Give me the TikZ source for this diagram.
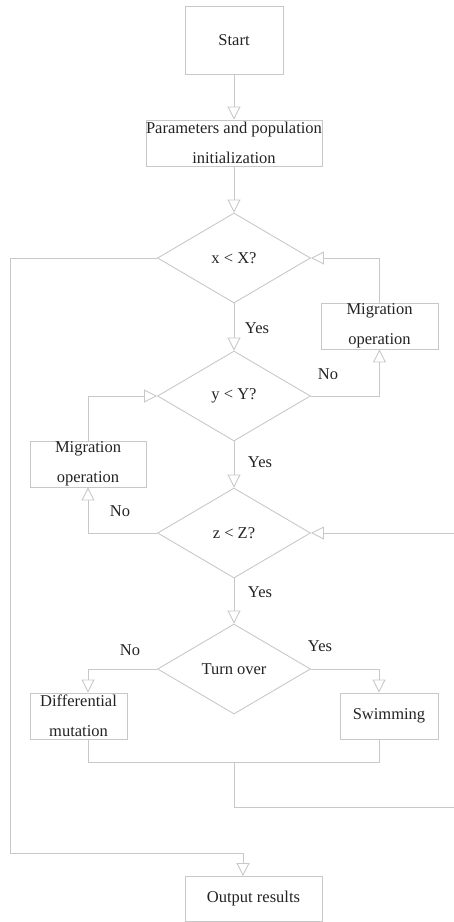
\documentclass[tikz,border=0pt]{standalone}
\usepackage{fontspec}
\setmainfont{Liberation Serif}
\usetikzlibrary{arrows.meta,shapes.geometric,calc}
\definecolor{linegray}{RGB}{200,200,200}
\definecolor{textgray}{RGB}{35,35,35}

\begin{document}
\begin{tikzpicture}[x=1pt,y=-1pt]
\tikzstyle{every node}=[text=textgray,font=\fontsize{16.5}{30}\selectfont]
\tikzstyle{box}=[rectangle, draw=linegray, line width=0.9pt, inner sep=0pt, align=center]
\tikzstyle{decision}=[diamond, draw=linegray, line width=0.9pt, inner sep=0pt, aspect=1.7, minimum width=153pt, minimum height=90pt]
\tikzstyle{flow}=[draw=linegray, line width=0.9pt, -{Triangle[open,length=13pt,width=13pt]}]
\tikzstyle{wire}=[draw=linegray, line width=0.9pt]

\clip (0,0) rectangle (454,922);

% boxes and decisions
\node[box, minimum width=98pt, minimum height=68pt] (start) at (234,40) {Start};
\node[box, minimum width=176pt, minimum height=46pt] (init) at (234,143) {Parameters and population\\initialization};
\node[decision] (dx) at (234,258) {x < X?};
\node[decision] (dy) at (234,396) {y < Y?};
\node[decision] (dz) at (234,533) {z < Z?};
\node[decision] (turn) at (234,669) {Turn over};
\node[box, minimum width=117pt, minimum height=46pt] (migR) at (379.5,326) {Migration\\operation};
\node[box, minimum width=116pt, minimum height=46pt] (migL) at (88,464) {Migration\\operation};
\node[box, minimum width=97pt, minimum height=46pt] (diff) at (78.5,716) {Differential\\mutation};
\node[box, minimum width=98pt, minimum height=46pt] (swim) at (389,716) {Swimming};
\node[box, minimum width=137pt, minimum height=45pt] (out) at (253.5,899) {Output results};

% labels
\node (yes1) at (257,328) {Yes};
\node (yes2) at (260,462) {Yes};
\node (yes3) at (260,592) {Yes};
\node (yes4) at (320,646) {Yes};
\node (no1) at (328,374) {No};
\node (no2) at (120,511) {No};
\node (no3) at (130,650) {No};

% corner points
\coordinate (colL) at (88,762);
\coordinate (colM) at (234,762);
\coordinate (colR) at (379,762);
\coordinate (back) at (234,807);
\coordinate (edge) at (458,807);
\coordinate (loop) at (10,853);
\coordinate (drop) at (243,853);

% straight arrows
\foreach \i/\j in {start/init,init/dx,dx/dy,dy/dz,dz/turn}{\draw[flow] (\i.south) -- (\j.north);}

% side loops
\draw[flow] (dy.east) -| (migR.south);
\draw[flow] (migR.north) |- (dx.east);
\draw[flow] (dz.west) -| (migL.south);
\draw[flow] (migL.north) |- (dy.west);
\draw[flow] (turn.west) -| (diff.north -| colL);
\draw[flow] (turn.east) -| (swim.north -| colR);
\draw[wire] (diff.south -| colL) -- (colL) -- (colR) -- (swim.south -| colR);
\draw[flow] (colM) -- (back) -- (edge) -- (edge |- dz.east) -- (dz.east);
\draw[flow] (dx.west) -| (loop) -- (drop) -- (drop |- out.north);
\end{tikzpicture}
\end{document}
